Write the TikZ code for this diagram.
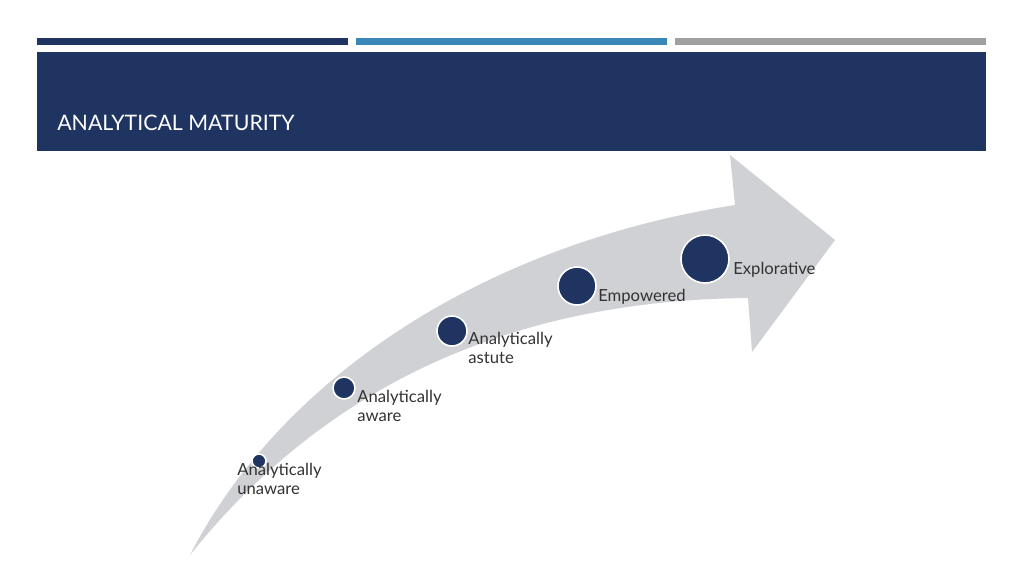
\documentclass[tikz,border=0pt]{standalone}
\usepackage{fontspec}
\setmainfont{Lato}
\definecolor{navy}{HTML}{1F3461}
\definecolor{midblue}{HTML}{3A87B8}
\definecolor{bargray}{HTML}{A0A0A0}
\definecolor{arrowgray}{HTML}{D0D1D4}
\definecolor{txt}{HTML}{333333}
\begin{document}
\begin{tikzpicture}[x=0.75pt,y=-0.75pt,
  dot/.style={circle,fill=navy,draw=white,line width=1.2pt,inner sep=0pt},
  lbl/.style={anchor=north west,align=left,text=txt,font=\fontsize{12.5}{14}\selectfont,inner sep=0pt}]
\useasboundingbox (0,0) rectangle (1024,576);
\fill[white] (0,0) rectangle (1024,576);
\fill[navy] (37,38) rectangle (348,45);
\fill[midblue] (356,38) rectangle (667,45);
\fill[bargray] (675,38) rectangle (986,45);
\fill[navy] (37,52) rectangle (986,151);
\node[anchor=west,text=white,font=\fontsize{16}{18}\selectfont,inner sep=0pt] (title) at (57,123) {ANALYTICAL MATURITY};
\fill[arrowgray] (190,555) .. controls (280,380) and (480,245) .. (735,205)
  -- (730,155) -- (835,240) -- (752,352) -- (748,298)
  .. controls (520,300) and (330,380) .. cycle;
\node[dot,minimum size=14pt*0.75] (d1) at (259,461) {};
\node[dot,minimum size=22pt*0.75] (d2) at (344,388) {};
\node[dot,minimum size=30pt*0.75] (d3) at (452,331) {};
\node[dot,minimum size=38pt*0.75] (d4) at (577,286) {};
\node[dot,minimum size=48pt*0.75] (d5) at (705,259) {};
\node[lbl] (l1) at (237,463) {Analytically\\unaware};
\node[lbl] (l2) at (357,390) {Analytically\\aware};
\node[lbl] (l3) at (468,332) {Analytically\\astute};
\node[lbl] (l4) at (598,289) {Empowered};
\node[lbl] (l5) at (733,262) {Explorative};
\end{tikzpicture}
\end{document}
